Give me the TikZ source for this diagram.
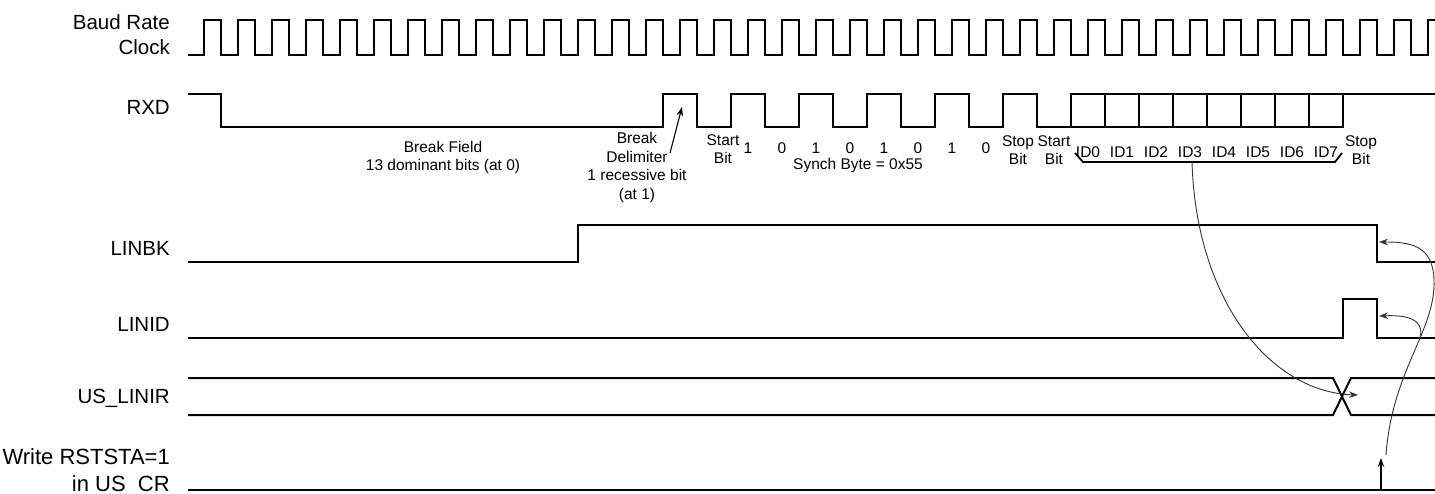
\documentclass[tikz,border=0pt]{standalone}
\usepackage{fontspec}
\setmainfont{Liberation Sans}
\usetikzlibrary{arrows.meta, positioning}

\begin{document}
\begin{tikzpicture}[
          x=1pt, y=-1pt,
          sig/.style={draw, line width=2pt},
          lbl/.style={anchor=east, inner sep=0pt, align=right, font=\fontsize{20.5}{25}\selectfont},
          small/.style={inner sep=0pt, align=center, font=\fontsize{15.5}{18.5}\selectfont},
          ptr/.style={draw=black!80, line width=0.9pt, -{Stealth[length=9pt, width=6.5pt]}}
        ]
          \useasboundingbox (0,0) rectangle (1435,493);

          % signal names
          \node[lbl] (clk) at (170,34.5) {Baud Rate\\Clock};
          \node[lbl] (rxd) at (170,107) {RXD};
          \node[lbl] (linbk) at (170,248) {LINBK};
          \node[lbl] (linid) at (170,324) {LINID};
          \node[lbl] (linir) at (170,398) {US\_LINIR};
          \node[lbl, font=\fontsize{22}{27}\selectfont] (rststa) at (170,472) {Write RSTSTA=1\\in US\_CR};

          % waveforms
          \draw[sig] (188,55) -- (204,55)
            \foreach \k in {0,...,35} { -- ++(0,-35) -- ++(17,0) -- ++(0,35) -- ++(17,0) }
            -- ++(0,-35) -- (1435,20);
          \draw[sig] (188,94) -- (221,94) -- (221,127) -- (663,127) -- (663,94) -- (697,94) -- (697,127) -- (731,127)
            \foreach \k in {0,...,4} { -- ++(0,-33) -- ++(34,0) -- ++(0,33) -- ++(34,0) };
          \draw[sig] (1071,127) rectangle (1343,94);
          \foreach \x in {1105,1139,...,1309}
            \draw[sig] (\x,94) -- (\x,127);
          \draw[sig] (1343,94) -- (1435,94);
          \draw[sig] (188,262) -- (578,262) -- (578,225) -- (1377,225) -- (1377,262) -- (1435,262);
          \draw[sig] (188,338) -- (1343,338) -- (1343,299) -- (1377,299) -- (1377,338) -- (1435,338);
          \draw[sig] (188,378) -- (1333,378) -- (1351,415) -- (1435,415);
          \draw[sig] (188,415) -- (1333,415) -- (1351,378) -- (1435,378);
          \draw[sig] (188,490) -- (1435,490);

          % frame fields
          \node[small] (brkfld) at (443,157.5) {Break Field\\13 dominant bits (at 0)};
          \node[small] (brkdel) at (637,167.5) {Break\\Delimiter\\1 recessive bit\\(at 1)};
          \node[small] (start1) at (723,149) {Start\\Bit};
          \foreach \i/\b in {0/1,1/0,2/1,3/0,4/1,5/0,6/1,7/0}
            \node[small] (d\i) at ({748+34*\i},148) {\b};
          \node[small] (synch) at (858,165) {Synch Byte = 0x55};
          \node[small] (stop1) at (1018,150) {Stop\\Bit};
          \node[small] (start2) at (1054,150) {Start\\Bit};
          \foreach \i in {0,...,7}
            \node[small] (id\i) at ({1088+34*\i},152) {ID\i};
          \node[small] (stop2) at (1361,150) {Stop\\Bit};
          \draw[line width=1.8pt] (1075,153) -- (1083,162) -- (1335,162) -- (1342,153);

          % pointers
          \coordinate (dtail) at (670,153);
          \coordinate (dtip) at (682,107);
          \coordinate (brace) at (1192,162);
          \coordinate (cross) at (1358,395);
          \coordinate (wr) at (1381,490);
          \coordinate (wrtip) at (1381,458);
          \coordinate (rise) at (1386,455);
          \coordinate (fork) at (1420,338);
          \coordinate (bktip) at (1379,242);
          \coordinate (idtip) at (1379,316);
          \draw[ptr, draw=black, line width=1.1pt] (dtail) -- (dtip);
          \draw[ptr] (brace) .. controls (1196,300) and (1270,392) .. (cross);
          \draw[ptr, draw=black, line width=1.1pt] (wr) -- (wrtip);
          \draw[ptr] (rise) .. controls (1392,370) and (1436,330) .. (1434,280) .. controls (1433,245) and (1410,242) .. (bktip);
          \draw[ptr] (fork) .. controls (1425,318) and (1405,315) .. (idtip);
        \end{tikzpicture}
\end{document}
